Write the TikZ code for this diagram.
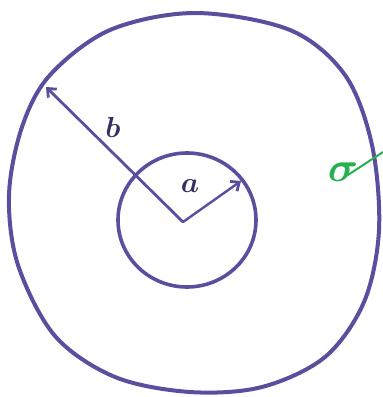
\documentclass[tikz,border=0pt]{standalone}
\usepackage{fix-cm}
\usetikzlibrary{arrows.meta}

\definecolor{ink}{RGB}{92,78,158}
\definecolor{greenink}{RGB}{40,175,80}

\tikzset{
    shell/.style={draw=ink, line width=4pt, line join=round},
    radius arrow/.style={draw=ink, line width=2.8pt, line cap=round,
        -{Straight Barb[length=7pt, width=12pt, line width=2.8pt]}},
    radius label/.style={text=ink!60!black, font=\fontsize{29}{29}\selectfont\boldmath},
}

\begin{document}
\begin{tikzpicture}[x=1pt, y=-1pt]
    \useasboundingbox (0,0) rectangle (383,397);

    % Outer shell (radius b)
    \draw[shell] plot[smooth cycle, tension=0.55] coordinates {
        (195,13) (290,30) (345,75) (372,145) (379,230) (364,302)
        (325,357) (262,387) (190,392) (115,377) (55,336) (18,265)
        (9,195) (22,127) (50,75) (110,30)};

    % Inner sphere (radius a)
    \draw[shell, line width=3.6pt] (187,220) ellipse (69pt and 67pt);

    % Centre and radius tips
    \coordinate (o) at (183,222);
    \coordinate (btip) at (46,87);
    \coordinate (atip) at (241,181);

    % Radii
    \draw[radius arrow] (o) -- (btip);
    \draw[radius arrow, line width=2.4pt] (o) -- (atip);

    % Labels
    \node[radius label] (lb) at (113,127) {$b$};
    \node[radius label] (la) at (190,186) {$a$};

    % Surface charge label
    \node[text=greenink, font=\fontsize{42}{42}\selectfont\boldmath] (sig) at (343,172) {$\sigma$};
    \coordinate (edge) at (383,152);
    \draw[greenink, line width=2pt] (sig.north east) ++(-14,16) -- (edge);
\end{tikzpicture}
\end{document}
